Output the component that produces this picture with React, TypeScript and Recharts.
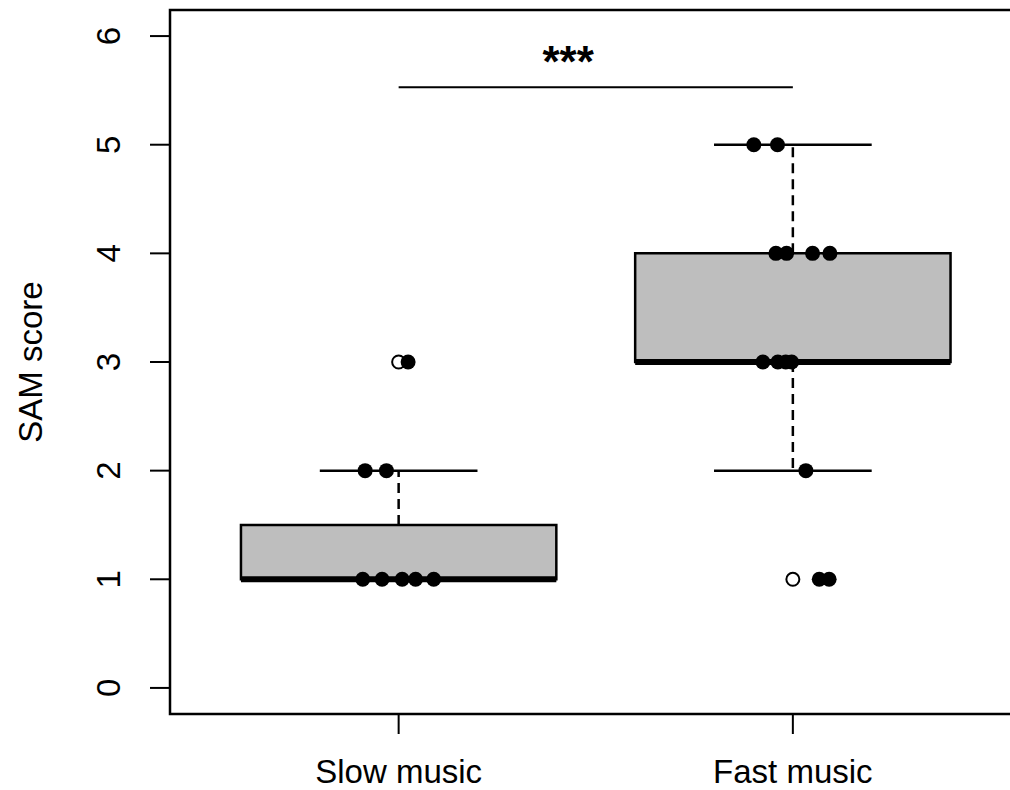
import React from 'react';
import {
  ComposedChart,
  XAxis,
  YAxis,
  Scatter,
  ReferenceArea,
  ReferenceLine,
  ReferenceDot,
} from 'recharts';

// box statistics per group
const categories = ['Slow music', 'Fast music'];
const groupPos = [1, 2];
const q1 = [1, 3];
const median = [1, 3];
const q3 = [1.5, 4];
const whiskerLow = [1, 2];
const whiskerHigh = [2, 5];

// outliers drawn by the boxplot (open circles)
const outlierX = [1, 2];
const outlierY = [3, 1];

// raw scores, jittered horizontally around the group position
const slowX = [0.909, 0.958, 1.009, 1.043, 1.089, 0.915, 0.969, 1.024];
const slowY = [1, 1, 1, 1, 1, 2, 2, 3];
const fastX = [1.901, 1.961, 1.957, 1.984, 2.05, 2.094, 1.924, 1.962, 1.982, 1.997, 2.033, 2.067, 2.092];
const fastY = [5, 5, 4, 4, 4, 4, 3, 3, 3, 3, 2, 1, 1];

const yTicks = [0, 1, 2, 3, 4, 5, 6];
const sigY = 5.53;
const sigLabel = '***';
const sigLabelX = 1.43;
const sigLabelY = 5.62;

const X_DOMAIN: [number, number] = [0.42, 2.58];
const Y_DOMAIN: [number, number] = [-0.24, 6.24];
const BOX_HALF = 0.4;
const CAP_HALF = 0.2;
const FONT = '"Liberation Sans", Arial, sans-serif';

const rawPoints = [
  ...slowX.map((x, i) => ({ x, y: slowY[i] })),
  ...fastX.map((x, i) => ({ x, y: fastY[i] })),
];
const outliers = outlierX.map((x, i) => ({ x, y: outlierY[i] }));

const FilledDot = (props: any) => <circle cx={props.cx} cy={props.cy} r={7.5} fill="#000" />;
const OpenDot = (props: any) => (
  <circle cx={props.cx} cy={props.cy} r={6.5} fill="#fff" stroke="#000" strokeWidth={2} />
);

const YTick = (props: any) => {
  const { x, y, payload } = props;
  const bx = x - 28;
  return (
    <text
      x={bx}
      y={y}
      transform={`rotate(-90, ${bx}, ${y})`}
      textAnchor="middle"
      fontFamily={FONT}
      fontSize={33}
      fill="#000"
    >
      {payload.value}
    </text>
  );
};

const XTick = (props: any) => {
  const { x, y, payload } = props;
  const idx = groupPos.indexOf(payload.value);
  return (
    <text x={x} y={y + 47} textAnchor="middle" fontFamily={FONT} fontSize={33} fill="#000">
      {idx >= 0 ? categories[idx] : ''}
    </text>
  );
};

const YLabel = (props: any) => {
  const vb = props.viewBox || { x: 0, y: 10, width: 170, height: 704 };
  const lx = vb.x + 42;
  const ly = vb.y + vb.height / 2;
  return (
    <text
      x={lx}
      y={ly}
      transform={`rotate(-90, ${lx}, ${ly})`}
      textAnchor="middle"
      fontFamily={FONT}
      fontSize={33}
      fill="#000"
    >
      SAM score
    </text>
  );
};

const StarLabel = (props: any) => (
  <text
    x={props.cx}
    y={props.cy}
    textAnchor="middle"
    fontFamily={FONT}
    fontSize={44}
    fontWeight="bold"
    fill="#000"
  >
    {sigLabel}
  </text>
);

export default function App() {
  return (
    <div style={{ position: 'absolute', left: 0, top: 0, width: 1010, height: 790, overflow: 'hidden', background: '#fff' }}>
      <ComposedChart width={1030} height={790} margin={{ top: 10, right: 8.5, left: 0, bottom: 0 }}>
        <XAxis
          type="number"
          dataKey="x"
          domain={X_DOMAIN}
          allowDataOverflow
          ticks={groupPos}
          tick={<XTick />}
          tickSize={20}
          tickLine={{ stroke: '#000', strokeWidth: 2 }}
          axisLine={false}
          height={76}
          interval={0}
        />
        <YAxis
          type="number"
          dataKey="y"
          domain={Y_DOMAIN}
          allowDataOverflow
          ticks={yTicks}
          tick={<YTick />}
          tickSize={20}
          tickLine={{ stroke: '#000', strokeWidth: 2 }}
          axisLine={false}
          width={170}
          interval={0}
          label={<YLabel />}
        />

        {/* boxes */}
        {groupPos.map((g, i) => (
          <ReferenceArea
            key={`box-${i}`}
            x1={g - BOX_HALF}
            x2={g + BOX_HALF}
            y1={q1[i]}
            y2={q3[i]}
            fill="#bebebe"
            fillOpacity={1}
            stroke="#000"
            strokeWidth={2.5}
          />
        ))}

        {/* whiskers */}
        {groupPos.map((g, i) =>
          whiskerHigh[i] > q3[i] ? (
            <ReferenceLine
              key={`wh-${i}`}
              segment={[{ x: g, y: q3[i] }, { x: g, y: whiskerHigh[i] }]}
              stroke="#000"
              strokeWidth={2.5}
              strokeDasharray="10 6"
            />
          ) : null
        )}
        {groupPos.map((g, i) =>
          whiskerLow[i] < q1[i] ? (
            <ReferenceLine
              key={`wl-${i}`}
              segment={[{ x: g, y: q1[i] }, { x: g, y: whiskerLow[i] }]}
              stroke="#000"
              strokeWidth={2.5}
              strokeDasharray="10 6"
            />
          ) : null
        )}
        {groupPos.map((g, i) => (
          <ReferenceLine
            key={`capH-${i}`}
            segment={[{ x: g - CAP_HALF, y: whiskerHigh[i] }, { x: g + CAP_HALF, y: whiskerHigh[i] }]}
            stroke="#000"
            strokeWidth={2.5}
          />
        ))}
        {groupPos.map((g, i) => (
          <ReferenceLine
            key={`capL-${i}`}
            segment={[{ x: g - CAP_HALF, y: whiskerLow[i] }, { x: g + CAP_HALF, y: whiskerLow[i] }]}
            stroke="#000"
            strokeWidth={2.5}
          />
        ))}

        {/* medians */}
        {groupPos.map((g, i) => (
          <ReferenceLine
            key={`med-${i}`}
            segment={[{ x: g - BOX_HALF, y: median[i] }, { x: g + BOX_HALF, y: median[i] }]}
            stroke="#000"
            strokeWidth={6}
          />
        ))}

        {/* significance bar */}
        <ReferenceLine
          segment={[{ x: groupPos[0], y: sigY }, { x: groupPos[1], y: sigY }]}
          stroke="#000"
          strokeWidth={2}
        />
        <ReferenceDot x={sigLabelX} y={sigLabelY} r={0} shape={<StarLabel />} />

        {/* plot frame */}
        <ReferenceArea
          x1={X_DOMAIN[0]}
          x2={X_DOMAIN[1]}
          y1={Y_DOMAIN[0]}
          y2={Y_DOMAIN[1]}
          fill="none"
          stroke="#000"
          strokeWidth={2.5}
          ifOverflow="visible"
        />

        <Scatter data={outliers} dataKey="y" shape={<OpenDot />} isAnimationActive={false} />
        <Scatter data={rawPoints} dataKey="y" shape={<FilledDot />} isAnimationActive={false} />
      </ComposedChart>
    </div>
  );
}
